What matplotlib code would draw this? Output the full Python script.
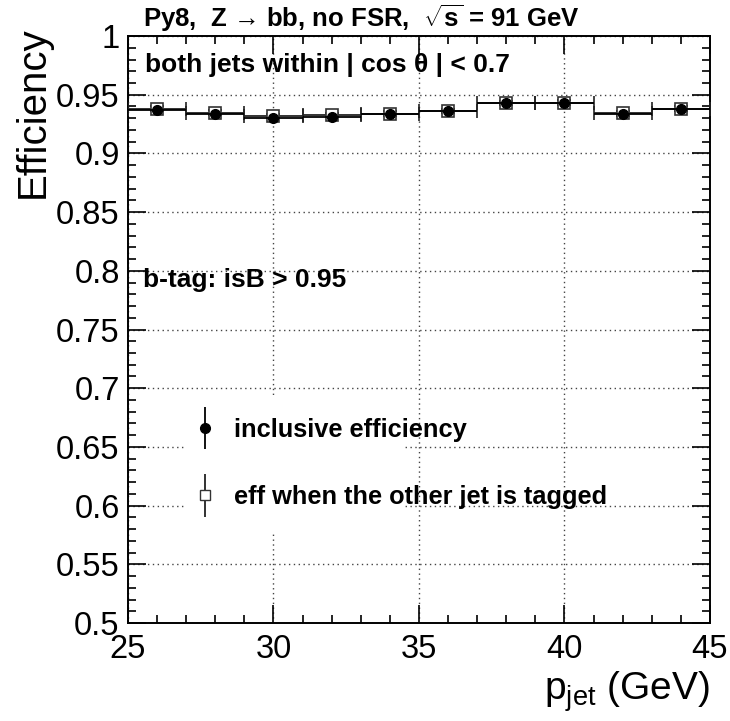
import matplotlib
matplotlib.use("Agg")
import matplotlib.pyplot as plt
from matplotlib.patches import Rectangle
from matplotlib.legend_handler import HandlerErrorbar
from matplotlib.ticker import FixedLocator, MultipleLocator, FixedFormatter

plt.rcParams['font.family'] = ['Liberation Sans', 'DejaVu Sans']
plt.rcParams['mathtext.fontset'] = 'custom'
plt.rcParams['mathtext.rm'] = 'Liberation Sans'
plt.rcParams['mathtext.bf'] = 'Liberation Sans:bold'
plt.rcParams['mathtext.it'] = 'Liberation Sans:italic'

# bins in p_jet (GeV)
pt_centers = [26, 28, 30, 32, 34, 36, 38, 40, 42, 44]
pt_halfwidth = [1, 1, 1, 1, 1, 1, 1, 1, 1, 1]
# efficiencies
eff_incl = [0.937, 0.9336, 0.9304, 0.9307, 0.9336, 0.9361, 0.9427, 0.9432, 0.9340, 0.9378]
err_incl = [0.002, 0.002, 0.002, 0.002, 0.002, 0.002, 0.002, 0.002, 0.002, 0.002]
eff_tag = [0.938, 0.9347, 0.9318, 0.9327, 0.9340, 0.9362, 0.9430, 0.9433, 0.9341, 0.9381]
err_tag = [0.002, 0.002, 0.002, 0.002, 0.002, 0.002, 0.002, 0.002, 0.002, 0.002]

yticks = [0.5, 0.55, 0.6, 0.65, 0.7, 0.75, 0.8, 0.85, 0.9, 0.95, 1.0]
ytick_labels = ['0.5', '0.55', '0.6', '0.65', '0.7', '0.75', '0.8', '0.85', '0.9', '0.95', '1']
xticks = [25, 30, 35, 40, 45]
xtick_labels = ['25', '30', '35', '40', '45']

fig = plt.figure(figsize=(7.30, 7.21), dpi=100)
ax = fig.add_axes([0.1753, 0.1359, 0.7973, 0.8141])

# grid
ax.grid(True, which='major', linestyle=(0, (1, 2.5)), color='#444444', linewidth=1.0, zorder=0)
ax.set_axisbelow(True)

# data
ax.errorbar(pt_centers, eff_tag, xerr=pt_halfwidth, yerr=err_tag, fmt='s', ms=8,
            mfc='white', mec='#333333', mew=1.2, color='#222222', elinewidth=1.3,
            capsize=5, capthick=1.3, zorder=3)
ax.errorbar(pt_centers, eff_incl, xerr=pt_halfwidth, yerr=err_incl, fmt='o', ms=7,
            mfc='black', mec='black', color='black', elinewidth=1.3,
            capsize=0, zorder=4)

ax.set_xlim(25, 45)
ax.set_ylim(0.5, 1.0)

ax.xaxis.set_major_locator(FixedLocator(xticks))
ax.xaxis.set_major_formatter(FixedFormatter(xtick_labels))
ax.xaxis.set_minor_locator(MultipleLocator(1))
ax.yaxis.set_major_locator(FixedLocator(yticks))
ax.yaxis.set_major_formatter(FixedFormatter(ytick_labels))
ax.yaxis.set_minor_locator(MultipleLocator(0.01))

ax.tick_params(which='both', direction='in', top=True, right=True, width=1.2, color='black')
ax.tick_params(which='major', length=13, labelsize=23.5)
ax.tick_params(which='minor', length=6)
ax.tick_params(axis='x', which='major', pad=8)
ax.tick_params(axis='y', which='major', pad=6)
for s in ax.spines.values():
    s.set_linewidth(1.4)

ax.set_ylabel('Efficiency', fontsize=29, loc='top')
ax.yaxis.set_label_coords(-0.1306, 1.017)
ax.set_xlabel(r'p$_{\mathrm{jet}}$ (GeV)', fontsize=28, loc='right', labelpad=3)

# texts
ax.text(0.026, 1.016, 'Py8,  Z \u2192 bb, no FSR,  ' + r'$\mathbf{\sqrt{s}}$' + ' = 91 GeV',
        transform=ax.transAxes, fontsize=18.5, fontweight='bold', va='baseline', ha='left')
ax.text(0.029, 0.9387, 'both jets within | cos \u03b8 | < 0.7', transform=ax.transAxes,
        fontsize=19, fontweight='bold', va='baseline', ha='left', zorder=5)
ax.text(0.025, 0.573, 'b-tag: isB > 0.95', transform=ax.transAxes,
        fontsize=19, fontweight='bold', va='baseline', ha='left', zorder=5)

# legend with white box behind it
ax.add_patch(Rectangle((0.098, 0.155), 0.3745, 0.233, transform=ax.transAxes,
                       facecolor='white', edgecolor='none', zorder=1))
h1 = ax.errorbar([], [], yerr=[], fmt='o', ms=7, color='black', elinewidth=1.3,
                 label='inclusive efficiency')
h2 = ax.errorbar([], [], yerr=[], fmt='s', ms=7, mfc='white', mec='#333333',
                 color='#222222', elinewidth=1.3, label='eff when the other jet is tagged')
leg = ax.legend(handles=[h1, h2], loc='center left', bbox_to_anchor=(0.1096, 0.2717),
                frameon=False, prop={'weight': 'bold', 'size': 18.3},
                borderpad=0, borderaxespad=0, handlelength=1.05, handletextpad=0.62,
                labelspacing=1.72, handler_map={type(h1): HandlerErrorbar(yerr_size=0.83)})
leg.set_zorder(6)

fig.savefig('out.png', dpi=100)
